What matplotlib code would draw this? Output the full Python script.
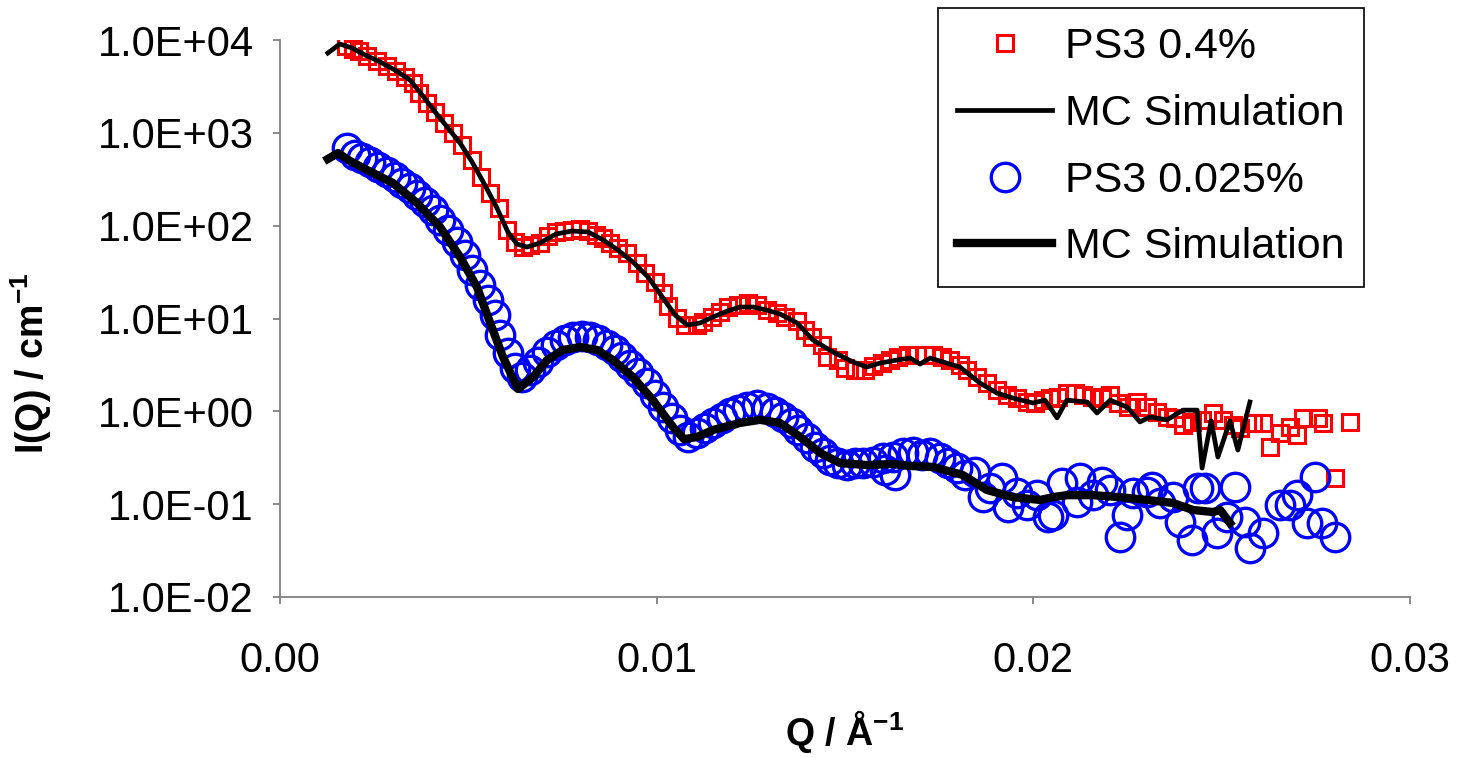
import matplotlib
matplotlib.use("Agg")
import matplotlib.pyplot as plt
from matplotlib.ticker import FixedLocator, FuncFormatter, NullLocator

plt.rcParams['font.family'] = ['Liberation Sans', 'DejaVu Sans']
plt.rcParams['mathtext.fontset'] = 'custom'
plt.rcParams['mathtext.rm'] = 'Liberation Sans'
plt.rcParams['mathtext.bf'] = 'Liberation Sans:bold'

# PS3 0.4% (red squares)
q_red = [1.75e-3, 1.94e-3, 2.10e-3, 2.31e-3, 2.58e-3, 2.84e-3, 3.08e-3, 3.32e-3, 3.53e-3, 3.69e-3,
         3.90e-3, 4.12e-3, 4.35e-3, 4.59e-3, 4.83e-3, 5.10e-3, 5.34e-3, 5.58e-3, 5.81e-3, 6.03e-3,
         6.24e-3, 6.45e-3, 6.64e-3, 6.90e-3, 7.12e-3, 7.33e-3, 7.54e-3, 7.75e-3, 7.97e-3, 8.18e-3,
         8.39e-3, 8.58e-3, 8.76e-3, 8.97e-3, 9.21e-3, 9.48e-3, 9.69e-3, 9.96e-3, 10.17e-3, 10.30e-3,
         10.54e-3, 10.75e-3, 11.07e-3, 11.23e-3, 11.47e-3, 11.68e-3, 11.89e-3, 12.16e-3, 12.43e-3, 12.66e-3,
         12.93e-3, 13.20e-3, 13.41e-3, 13.73e-3, 13.94e-3, 14.12e-3, 14.39e-3, 14.52e-3, 14.81e-3, 15.00e-3,
         15.27e-3, 15.53e-3, 15.74e-3, 15.98e-3, 16.20e-3, 16.41e-3, 16.67e-3, 16.91e-3, 17.12e-3, 17.34e-3,
         17.58e-3, 17.79e-3, 18.05e-3, 18.24e-3, 18.50e-3, 18.77e-3, 19.04e-3, 19.30e-3, 19.57e-3, 19.83e-3,
         20.04e-3, 20.26e-3, 20.44e-3, 20.66e-3, 20.89e-3, 21.11e-3, 21.32e-3, 21.56e-3, 21.82e-3, 22.04e-3,
         22.25e-3, 22.51e-3, 22.75e-3, 23.02e-3, 23.28e-3, 23.55e-3, 23.76e-3, 23.97e-3, 24.21e-3, 24.48e-3,
         24.77e-3, 25.04e-3, 25.30e-3, 25.49e-3, 25.83e-3, 26.10e-3, 26.28e-3, 26.55e-3, 26.81e-3, 27.00e-3,
         27.16e-3, 27.56e-3, 27.69e-3, 28.01e-3, 28.41e-3]
i_red = [8600, 8000, 7610, 6730, 5940, 5250, 4640, 4000, 3440, 2690,
         2100, 1675, 1276, 995, 740, 509, 334, 225, 155, 89.8,
         66.7, 58.9, 61.9, 65.0, 77.4, 85.5, 87.6, 89.8, 92.0, 87.6,
         79.3, 73.6, 65.0, 57.4, 50.8, 39.6, 30.9, 24.7, 18.8, 13.6,
         10.1, 8.51, 8.51, 9.17, 10.4, 11.7, 13.3, 14.0, 14.7, 14.0,
         12.3, 11.5, 10.4, 9.40, 7.52, 6.32, 5.18, 3.85, 3.57, 2.93,
         2.79, 2.79, 3.08, 3.31, 3.57, 3.85, 4.04, 4.04, 4.04, 4.04,
         3.85, 3.57, 3.16, 2.79, 2.34, 2.02, 1.70, 1.50, 1.39, 1.26,
         1.23, 1.32, 1.39, 1.43, 1.57, 1.57, 1.50, 1.43, 1.39, 1.50,
         1.23, 1.11, 1.26, 1.11, 0.98, 0.87, 0.85, 0.71, 0.77, 0.81,
         0.96, 0.81, 0.71, 0.66, 0.75, 0.75, 0.41, 0.58, 0.68, 0.56,
         0.85, 0.85, 0.75, 0.191, 0.77]

# MC simulation for PS3 0.4% (thin black line)
q_mc_red = [1.27e-3, 1.59e-3, 1.91e-3, 2.26e-3, 2.66e-3, 3.05e-3, 3.45e-3, 3.77e-3, 4.12e-3, 4.46e-3,
            4.78e-3, 5.10e-3, 5.44e-3, 5.76e-3, 6.05e-3, 6.29e-3, 6.56e-3, 6.90e-3, 7.33e-3, 7.75e-3,
            8.18e-3, 8.58e-3, 8.97e-3, 9.37e-3, 9.77e-3, 10.17e-3, 10.49e-3, 10.81e-3, 11.15e-3, 11.50e-3,
            11.87e-3, 12.21e-3, 12.56e-3, 12.93e-3, 13.27e-3, 13.73e-3, 14.15e-3, 14.68e-3, 15.21e-3, 15.58e-3,
            15.93e-3, 16.38e-3, 16.73e-3, 16.99e-3, 17.26e-3, 17.52e-3, 18.05e-3, 18.58e-3, 19.04e-3, 19.46e-3,
            19.99e-3, 20.31e-3, 20.63e-3, 20.89e-3, 21.43e-3, 21.69e-3, 22.04e-3, 22.49e-3, 22.83e-3, 23.10e-3,
            23.55e-3, 23.97e-3, 24.35e-3, 24.48e-3, 24.72e-3, 24.90e-3, 25.22e-3, 25.43e-3, 25.75e-3]
i_mc_red = [7244, 9057, 8201, 6893, 5794, 4753, 3708, 2556, 1675, 1127,
            777, 485, 274, 155, 85.5, 63.4, 58.9, 65.0, 81.3, 87.6,
            85.5, 70.1, 54.7, 40.6, 28.0, 16.6, 10.9, 8.51, 8.94, 10.4,
            12.0, 13.3, 13.3, 12.3, 11.2, 8.94, 5.87, 4.36, 3.40, 3.00,
            3.31, 3.57, 3.75, 3.23, 3.75, 3.48, 3.00, 2.02, 1.57, 1.39,
            1.23, 1.32, 0.85, 1.32, 1.26, 0.96, 1.32, 1.11, 0.77, 0.87,
            0.81, 1.03, 1.03, 0.245, 0.79, 0.322, 0.79, 0.383, 1.26]

# PS3 0.025% (blue circles)
q_blue = [1.78e-3, 1.99e-3, 2.18e-3, 2.39e-3, 2.60e-3, 2.84e-3, 3.05e-3, 3.24e-3, 3.45e-3, 3.64e-3,
          3.85e-3, 4.06e-3, 4.25e-3, 4.46e-3, 4.70e-3, 4.91e-3, 5.10e-3, 5.31e-3, 5.52e-3, 5.71e-3,
          5.84e-3, 6.05e-3, 6.24e-3, 6.43e-3, 6.64e-3, 6.85e-3, 7.09e-3, 7.33e-3, 7.57e-3, 7.78e-3,
          8.02e-3, 8.23e-3, 8.44e-3, 8.68e-3, 8.89e-3, 9.08e-3, 9.29e-3, 9.50e-3, 9.74e-3, 9.96e-3,
          10.17e-3, 10.41e-3, 10.62e-3, 10.83e-3, 11.07e-3, 11.28e-3, 11.50e-3, 11.73e-3, 11.95e-3, 12.16e-3,
          12.40e-3, 12.66e-3, 12.93e-3, 13.14e-3, 13.35e-3, 13.59e-3, 13.75e-3, 13.99e-3, 14.20e-3, 14.42e-3,
          14.60e-3, 14.81e-3, 15.05e-3, 15.27e-3, 15.48e-3, 15.74e-3, 16.01e-3, 16.06e-3, 16.27e-3, 16.33e-3,
          16.54e-3, 16.81e-3, 17.04e-3, 17.26e-3, 17.52e-3, 17.73e-3, 17.97e-3, 18.19e-3, 18.45e-3, 18.66e-3,
          18.85e-3, 19.17e-3, 19.33e-3, 19.57e-3, 19.83e-3, 20.10e-3, 20.39e-3, 20.52e-3, 20.76e-3, 21.16e-3,
          21.24e-3, 21.58e-3, 21.82e-3, 22.04e-3, 22.30e-3, 22.49e-3, 22.65e-3, 23.02e-3, 23.15e-3, 23.36e-3,
          23.71e-3, 23.89e-3, 24.21e-3, 24.37e-3, 24.56e-3, 24.88e-3, 25.14e-3, 25.35e-3, 25.62e-3, 25.75e-3,
          26.10e-3, 26.55e-3, 26.81e-3, 27.00e-3, 27.27e-3, 27.48e-3, 27.66e-3, 28.01e-3]
i_blue = [686, 577, 536, 485, 428, 378, 334, 288, 254, 214,
          180, 147, 115, 89.8, 66.7, 48.3, 33.3, 22.9, 15.8, 10.9,
          6.64, 4.25, 2.93, 2.34, 2.79, 3.40, 4.36, 5.18, 5.87, 6.32,
          6.48, 6.32, 5.87, 5.18, 4.58, 3.85, 3.16, 2.59, 2.02, 1.50,
          1.11, 0.85, 0.63, 0.53, 0.58, 0.66, 0.75, 0.85, 0.96, 1.03,
          1.11, 1.17, 1.09, 0.98, 0.87, 0.75, 0.63, 0.52, 0.41, 0.356,
          0.300, 0.277, 0.264, 0.277, 0.277, 0.284, 0.314, 0.233, 0.322, 0.206,
          0.356, 0.365, 0.338, 0.356, 0.314, 0.277, 0.245, 0.206, 0.222, 0.119,
          0.149, 0.191, 0.0932, 0.132, 0.098, 0.125, 0.0727, 0.0764, 0.169, 0.1055,
          0.191, 0.125, 0.173, 0.142, 0.0443, 0.0764, 0.132, 0.135, 0.153, 0.103,
          0.119, 0.0642, 0.0411, 0.149, 0.149, 0.0489, 0.0727, 0.153, 0.0642, 0.0337,
          0.0489, 0.098, 0.098, 0.125, 0.0627, 0.196, 0.0627, 0.0443]

# MC simulation for PS3 0.025% (thick black line)
q_mc_blue = [1.27e-3, 1.54e-3, 1.86e-3, 2.31e-3, 3.00e-3, 3.64e-3, 4.25e-3, 4.78e-3, 5.23e-3, 5.58e-3,
             5.92e-3, 6.32e-3, 6.72e-3, 7.09e-3, 7.51e-3, 7.97e-3, 8.42e-3, 8.84e-3, 9.37e-3, 9.90e-3,
             10.43e-3, 10.73e-3, 11.07e-3, 11.50e-3, 12.21e-3, 12.74e-3, 13.27e-3, 13.81e-3, 14.34e-3, 14.87e-3,
             15.58e-3, 16.27e-3, 16.73e-3, 17.34e-3, 18.13e-3, 18.77e-3, 19.46e-3, 20.18e-3, 20.52e-3, 20.89e-3,
             21.58e-3, 22.30e-3, 23.02e-3, 23.71e-3, 24.24e-3, 24.77e-3, 24.96e-3, 25.22e-3]
i_mc_blue = [523, 606, 497, 398, 288, 175, 96.7, 46.0, 21.8, 8.94,
             3.85, 1.74, 2.34, 3.57, 4.58, 4.93, 4.58, 3.57, 2.34, 1.32,
             0.68, 0.50, 0.53, 0.63, 0.75, 0.81, 0.75, 0.53, 0.356, 0.277,
             0.264, 0.271, 0.258, 0.252, 0.206, 0.142, 0.119, 0.111, 0.119, 0.125,
             0.125, 0.119, 0.111, 0.103, 0.0865, 0.0823, 0.0865, 0.0627]

y_ticks = [1e-2, 1e-1, 1e0, 1e1, 1e2, 1e3, 1e4]
x_ticks = [0.0, 0.01, 0.02, 0.03]

fig = plt.figure(figsize=(14.58, 7.58), dpi=100)
ax = fig.add_axes([280 / 1458, 1 - 597 / 758, 1130 / 1458, 557 / 758])

ax.plot(q_red, i_red, linestyle='none', marker='s', markersize=11,
        markerfacecolor='none', markeredgecolor='#FF0000', markeredgewidth=2.2,
        label='PS3 0.4%')
ax.plot(q_mc_red, i_mc_red, color='black', linewidth=3.4, label='MC Simulation')
ax.plot(q_blue, i_blue, linestyle='none', marker='o', markersize=20.5,
        markerfacecolor='none', markeredgecolor='#0000FF', markeredgewidth=2.4,
        label='PS3 0.025%')
ax.plot(q_mc_blue, i_mc_blue, color='black', linewidth=6, label='MC Simulation')

ax.set_yscale('log')
ax.set_xlim(0, 0.03)
ax.set_ylim(1e-2, 1e4)

ax.yaxis.set_major_locator(FixedLocator(y_ticks))
ax.yaxis.set_minor_locator(NullLocator())
ax.yaxis.set_major_formatter(FuncFormatter(lambda v, p: f"{v:.1E}"))
ax.xaxis.set_major_locator(FixedLocator(x_ticks))
ax.xaxis.set_major_formatter(FuncFormatter(lambda v, p: f"{v:.2f}"))

for side in ['top', 'right']:
    ax.spines[side].set_visible(False)
for side in ['left', 'bottom']:
    ax.spines[side].set_color('#808080')
    ax.spines[side].set_linewidth(1.3)

ax.tick_params(axis='y', direction='out', length=5, width=1.3, color='#808080',
               labelsize=30, pad=14)
ax.tick_params(axis='x', direction='out', length=5, width=1.3, color='#808080',
               labelsize=30, pad=27)

ax.set_xlabel(r"Q / Å$^{\mathbf{-1}}$", fontsize=27, fontweight='bold')
ax.set_ylabel(r"I(Q) / cm$^{\mathbf{-1}}$", fontsize=27, fontweight='bold')
ax.xaxis.set_label_coords(0.5, -0.2)
ax.yaxis.set_label_coords(-0.2, 0.42)

leg = ax.legend(loc='upper left', bbox_to_anchor=(938 / 1458, 1 - 8 / 758),
                bbox_transform=fig.transFigure, fontsize=31, numpoints=1,
                frameon=True, fancybox=False, framealpha=1, edgecolor='black',
                borderpad=0.45, labelspacing=0.62, handlelength=2.2, handletextpad=0.3,
                borderaxespad=0)
leg.get_frame().set_linewidth(1.2)

plt.savefig("out.png", dpi=100)
plt.close()
